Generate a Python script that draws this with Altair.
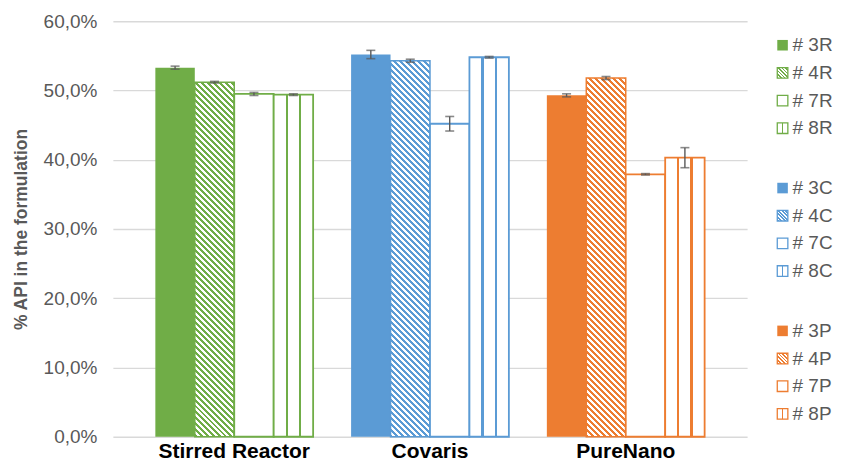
import math
import altair as alt
import pandas as pd

# ---------------- data ----------------
groups = ["Stirred Reactor", "Covaris", "PureNano"]
group_codes = ["R", "C", "P"]
series = ["3", "4", "7", "8"]
group_colors = ["#70AD47", "#5B9BD5", "#ED7D31"]

values_R = [53.3, 51.2, 49.5, 49.4]
values_C = [55.2, 54.3, 45.2, 54.8]
values_P = [49.3, 51.8, 37.9, 40.3]

errors_R = [0.22, 0.12, 0.22, 0.12]
errors_C = [0.60, 0.22, 1.05, 0.12]
errors_P = [0.22, 0.22, 0.10, 1.45]

y_ticks = [0.0, 0.1, 0.2, 0.3, 0.4, 0.5, 0.6]

all_values = [values_R, values_C, values_P]
all_errors = [errors_R, errors_C, errors_P]

# ---------------- layout / style ----------------
W, H = 635, 416
PAD_IN, PAD_OUT = 0.194, 0.217
Y_MAX = 0.6
step = W / (3 - PAD_IN + 2 * PAD_OUT)
bar_w = step * (1 - PAD_IN) / 4
WHITE = "#FFFFFF"
GRAY = "#595959"
FONT = "Liberation Sans"


def diag_gradient(color, w, h, period=6.0):
    r = h / w
    k = (1 + r) / (1 + r * r)
    n_per = (w + h) / period
    n = int(math.ceil(n_per))
    stops = []
    for j in range(n):
        a = min(j / n_per, 1.0)
        b = min((j + 0.5) / n_per, 1.0)
        c = min((j + 1) / n_per, 1.0)
        stops += [(a, color), (b, color), (b, WHITE), (c, WHITE)]
    return {
        "gradient": "linear",
        "x1": 0, "y1": 1, "x2": k, "y2": 1 - k * r,
        "stops": [{"offset": o, "color": col} for o, col in stops],
    }


def vline_gradient(color, positions, lw):
    stops = [(0.0, WHITE)]
    for p in positions:
        stops += [(p - lw / 2, WHITE), (p - lw / 2, color), (p + lw / 2, color), (p + lw / 2, WHITE)]
    stops.append((1.0, WHITE))
    return {
        "gradient": "linear",
        "x1": 0, "y1": 0, "x2": 1, "y2": 0,
        "stops": [{"offset": o, "color": col} for o, col in stops],
    }


def bar_fill(kind, color, h_px):
    if kind == "3":
        return color
    if kind == "4":
        return diag_gradient(color, bar_w, max(h_px, 1.0), 6.0)
    if kind == "7":
        return WHITE
    return vline_gradient(color, [1 / 3, 2 / 3], 2.2 / bar_w)


def legend_fill(kind, color):
    if kind == "3":
        return color
    if kind == "4":
        return diag_gradient(color, 10.5, 10.5, 3.5)
    if kind == "7":
        return WHITE
    return vline_gradient(color, [0.5], 0.16)


x_enc = alt.X(
    "group:N",
    sort=groups,
    scale=alt.Scale(paddingInner=PAD_IN, paddingOuter=PAD_OUT),
    axis=alt.Axis(title=None, labelFontSize=21, labelFontWeight="bold", labelColor="#000000",
                  labelPadding=4, domain=False, ticks=False, labelAngle=0, labelFont=FONT),
)
xo_enc = alt.XOffset("series:N", sort=series, scale=alt.Scale(paddingInner=0, paddingOuter=0))
y_axis = alt.Axis(
    values=y_ticks,
    labelExpr="replace(format(datum.value, '.1%'), '.', ',')",
    domain=False, ticks=False, tickSize=0, labelPadding=16,
    labelFontSize=19, labelColor=GRAY, labelFont=FONT,
    gridColor="#D9D9D9", gridWidth=1.3,
    titleFontSize=17.5, titleFontWeight="bold", titleColor=GRAY, titlePadding=13, titleFont=FONT,
)
Y_TITLE = "% API in the formulation"


def y_enc(field):
    return alt.Y(f"{field}:Q", title=Y_TITLE, scale=alt.Scale(domain=[0, Y_MAX], nice=False), axis=y_axis)


layers = []
err_rows = []
for gi, g in enumerate(groups):
    color = group_colors[gi]
    for si, s in enumerate(series):
        v = all_values[gi][si] / 100.0
        e = all_errors[gi][si] / 100.0
        h_px = v / Y_MAX * H
        df = pd.DataFrame([{"group": g, "series": s, "value": v}])
        sw = 0 if s == "3" else (1.5 if s == "4" else 1.8)
        layers.append(
            alt.Chart(df).mark_bar(fill=bar_fill(s, color, h_px), stroke=color, strokeWidth=sw)
            .encode(x=x_enc, xOffset=xo_enc, y=y_enc("value"))
        )
        err_rows.append({"group": g, "series": s, "lo": v - e, "hi": v + e})

err_df = pd.DataFrame(err_rows)
err_base = alt.Chart(err_df)
layers.append(err_base.mark_rule(color=GRAY, strokeWidth=1.4).encode(
    x=x_enc, xOffset=xo_enc, y=y_enc("lo"), y2="hi:Q"))
layers.append(err_base.mark_tick(color=GRAY, size=9, thickness=1.6).encode(
    x=x_enc, xOffset=xo_enc, y=y_enc("lo")))
layers.append(err_base.mark_tick(color=GRAY, size=9, thickness=1.6).encode(
    x=x_enc, xOffset=xo_enc, y=y_enc("hi")))

main = alt.layer(*layers).properties(width=W, height=H)

# ---------------- legend ----------------
LW = 70
leg_rows = []
for gi, code in enumerate(group_codes):
    for si, s in enumerate(series):
        leg_rows.append({
            "label": f"# {s}{code}",
            "kind": s,
            "gi": gi,
            "ly": 24 + gi * 143 + si * 27.7,
            "sx": 25.5,
            "tx": 35.5,
        })

lx_scale = alt.Scale(domain=[0, LW])
ly_scale = alt.Scale(domain=[0, H], reverse=True)
leg_layers = []
for row in leg_rows:
    color = group_colors[row["gi"]]
    leg_layers.append(
        alt.Chart(pd.DataFrame([row])).mark_square(
            size=112, fill=legend_fill(row["kind"], color), stroke=color,
            strokeWidth=0 if row["kind"] == "3" else 1.3, opacity=1,
        ).encode(x=alt.X("sx:Q", scale=lx_scale, axis=None), y=alt.Y("ly:Q", scale=ly_scale, axis=None))
    )
leg_layers.append(
    alt.Chart(pd.DataFrame(leg_rows)).mark_text(
        align="left", baseline="middle", fontSize=19, color=GRAY, font=FONT
    ).encode(x=alt.X("tx:Q", scale=lx_scale, axis=None), y=alt.Y("ly:Q", scale=ly_scale, axis=None), text="label:N")
)
legend = alt.layer(*leg_layers).properties(width=LW, height=H)

chart = (
    alt.hconcat(main, legend, spacing=10, bounds="flush")
    .configure(padding={"left": 4, "top": 4, "right": 0, "bottom": 0}, font=FONT)
    .configure_view(stroke=None, strokeWidth=0)
)

chart.save("out.html", embed_options={"renderer": "svg", "actions": False})
